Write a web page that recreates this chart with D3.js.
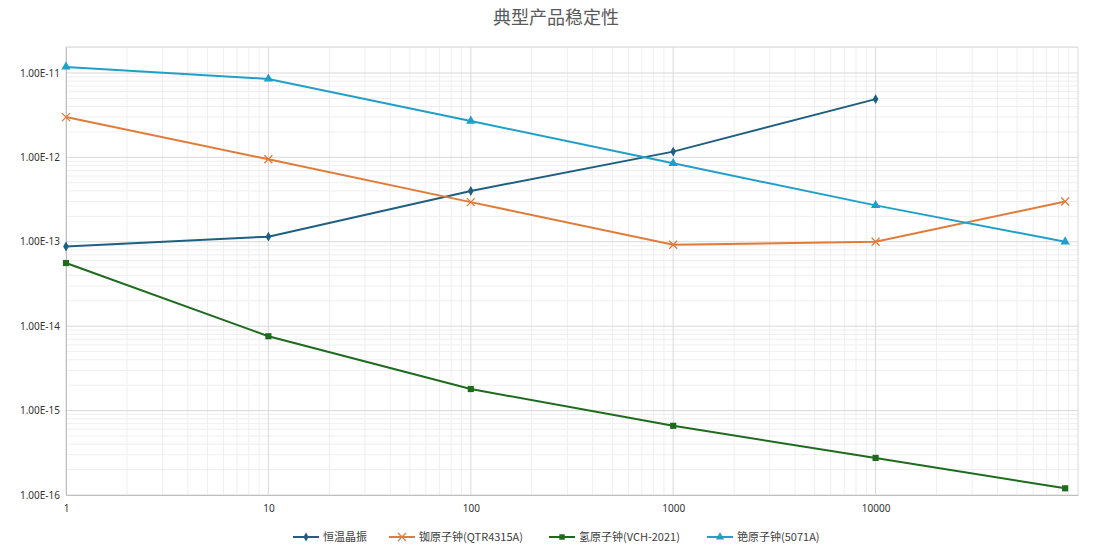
<!DOCTYPE html>
<html><head><meta charset="utf-8">
<script src="https://cdn.jsdelivr.net/npm/d3@7"></script>
<style>body{margin:0;background:#fff;font-family:"Noto Sans CJK SC","Noto Sans",sans-serif}</style>
</head><body><svg id="c" width="1114" height="556"></svg>
<script>
const xVals=[1,10,100,1000,10000,86400];
const seriesNames=["恒温晶振","铷原子钟(QTR4315A)","氢原子钟(VCH-2021)","铯原子钟(5071A)"];
const ocxo=[8.8e-14,1.15e-13,4.0e-13,1.17e-12,4.9e-12];
const rb=[3.0e-12,9.5e-13,2.95e-13,9.2e-14,1.0e-13,3.0e-13];
const h=[5.6e-14,7.6e-15,1.8e-15,6.6e-16,2.75e-16,1.2e-16];
const cs=[1.18e-11,8.5e-12,2.7e-12,8.5e-13,2.7e-13,1.0e-13];
const xTicks=[1,10,100,1000,10000];
const yTicks=[1e-16,1e-15,1e-14,1e-13,1e-12,1e-11];
const colors=["#1f5f7f","#e07b39","#1e6b1e","#1fa0c9"];
const shapes=[d3.symbolDiamond,null,d3.symbolSquare,d3.symbolTriangle];
const data=[ocxo,rb,h,cs];

const svg=d3.select("#c");
const L=66,R=1078,T=47,B=495;
const x=d3.scaleLog().domain([1,100000]).range([L,R]);
const y=d3.scaleLog().domain([1e-16,2.03e-11]).range([B,T]);
svg.append("text").attr("x",556).attr("y",24).attr("text-anchor","middle").attr("font-size",18).attr("fill","#595959").text("典型产品稳定性");
const g=svg.append("g");
for(let d=0;d<5;d++)for(let k=2;k<10;k++){const v=Math.pow(10,d)*k;g.append("line").attr("x1",x(v)).attr("x2",x(v)).attr("y1",T).attr("y2",B).attr("stroke","#efefef");}
for(let d=-16;d<-10;d++)for(let k=2;k<10;k++){const v=Math.pow(10,d)*k;if(v>2.03e-11)continue;g.append("line").attr("x1",L).attr("x2",R).attr("y1",y(v)).attr("y2",y(v)).attr("stroke","#efefef");}
xTicks.concat([100000]).forEach(v=>g.append("line").attr("x1",x(v)).attr("x2",x(v)).attr("y1",T).attr("y2",B).attr("stroke","#d9d9d9"));
yTicks.forEach(v=>g.append("line").attr("x1",L).attr("x2",R).attr("y1",y(v)).attr("y2",y(v)).attr("stroke","#d9d9d9"));
g.append("line").attr("x1",L).attr("x2",R).attr("y1",T).attr("y2",T).attr("stroke","#d9d9d9");
const xa=svg.append("g").attr("transform",`translate(0,${B})`).call(d3.axisBottom(x).tickValues(xTicks).tickFormat(d3.format("d")).tickSize(0).tickPadding(10));
const ya=svg.append("g").attr("transform",`translate(${L},0)`).call(d3.axisLeft(y).tickValues(yTicks).tickFormat(v=>"1.00E"+Math.round(Math.log10(v))).tickSize(0).tickPadding(6));
[xa,ya].forEach(a=>{a.select(".domain").attr("stroke","#bfbfbf");a.selectAll("text").attr("font-size",10).attr("fill","#333").attr("font-family","Noto Sans,sans-serif");});
const line=d3.line().x((d,i)=>x(xVals[i])).y(d=>y(d));
function marker(sel,i,size){
 if(i==1){sel.append("path").attr("d","M-4,-4L4,4M-4,4L4,-4").attr("stroke",colors[i]).attr("stroke-width",1.3).attr("fill","none");}
 else sel.append("path").attr("d",d3.symbol(shapes[i],size)()).attr("fill",colors[i]);
}
data.forEach((s,i)=>{
 svg.append("path").attr("d",line(s)).attr("fill","none").attr("stroke",colors[i]).attr("stroke-width",2);
 s.forEach((v,j)=>marker(svg.append("g").attr("transform",`translate(${x(xVals[j])},${y(v)})`),i,i==0?28:38));
});
const lx=[293,389,549,707];
seriesNames.forEach((n,i)=>{
 const lg=svg.append("g").attr("transform",`translate(${lx[i]},537)`);
 lg.append("line").attr("x1",0).attr("x2",26).attr("stroke",colors[i]).attr("stroke-width",2);
 marker(lg.append("g").attr("transform","translate(13,0)"),i,i==0?24:30);
 lg.append("text").attr("x",30).attr("y",4).attr("font-size",11).attr("fill","#404040").text(n);
});
</script></body></html>
